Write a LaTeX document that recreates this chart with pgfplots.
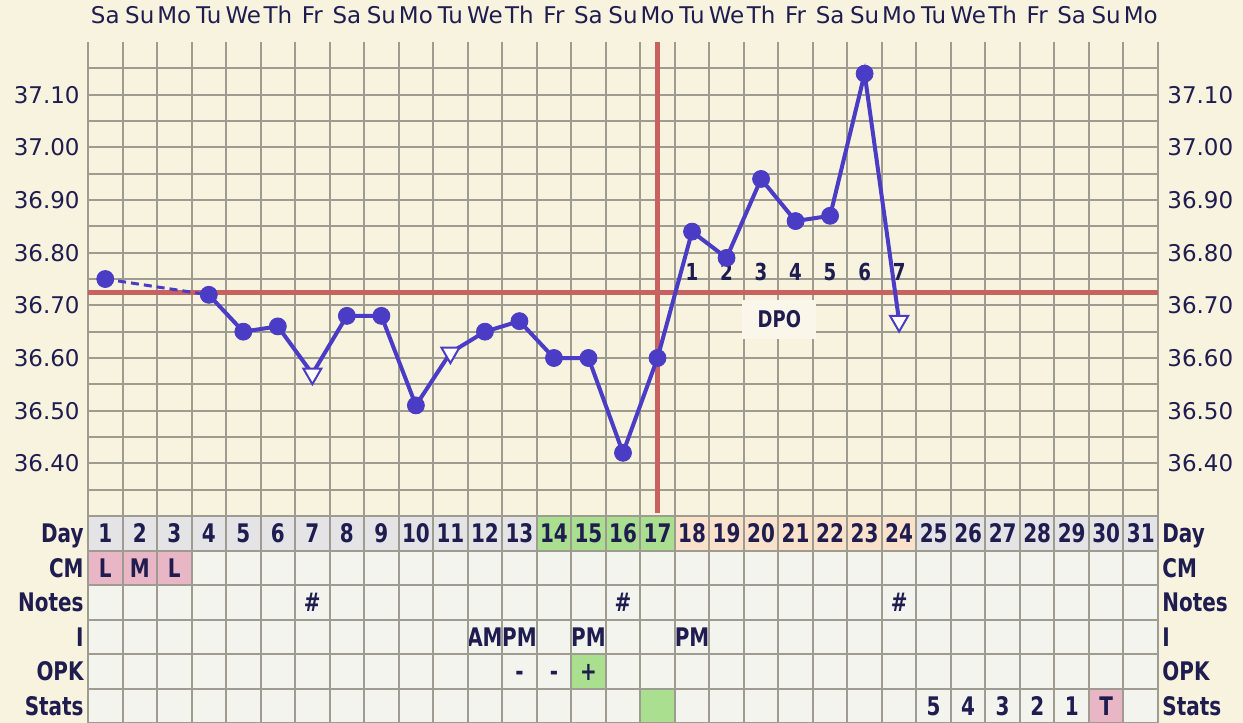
\documentclass[border=0pt]{standalone}
\usepackage{pgfplots}
\pgfplotsset{compat=1.18}
\usepackage{pgfplotstable}
\usepackage{fontspec}
\setmainfont{DejaVu Sans}
\newfontfamily\tblfont[FakeStretch=0.78]{DejaVu Sans}

\definecolor{bgc}{HTML}{F7F3DE}
\definecolor{gridc}{HTML}{9E9C90}
\definecolor{cellc}{HTML}{F4F4EF}
\definecolor{dayc}{HTML}{E4E4E6}
\definecolor{greenc}{HTML}{A9DF8E}
\definecolor{peachc}{HTML}{FAE1CA}
\definecolor{pinkc}{HTML}{E9B6C6}
\definecolor{redc}{HTML}{C8625E}
\definecolor{bluec}{HTML}{4A3CC4}
\definecolor{txtc}{HTML}{1F1C50}
\definecolor{dpobox}{HTML}{FAF7EA}

\pgfdeclareplotmark{dtri}{%
  \pgfpathmoveto{\pgfqpoint{0pt}{-\pgfplotmarksize}}%
  \pgfpathlineto{\pgfqpointpolar{30}{\pgfplotmarksize}}%
  \pgfpathlineto{\pgfqpointpolar{150}{\pgfplotmarksize}}%
  \pgfpathclose
  \pgfusepathqfillstroke}

\pgfplotstableread{
day temp cls
1 36.75 c
4 36.72 c
5 36.65 c
6 36.66 c
7 36.57 t
8 36.68 c
9 36.68 c
10 36.51 c
11 36.61 t
12 36.65 c
13 36.67 c
14 36.60 c
15 36.60 c
16 36.42 c
17 36.60 c
18 36.84 c
19 36.79 c
20 36.94 c
21 36.86 c
22 36.87 c
23 37.14 c
24 36.67 t
}\temps

\pgfplotsset{
  tickfont/.style={font=\fontsize{11.5}{13.8}\selectfont, text=txtc},
}
\tikzset{
  cell/.style={font=\tblfont\bfseries\fontsize{12.8}{14}\selectfont, text=txtc, anchor=base, yshift=-4.7pt, inner sep=0pt},
  dpon/.style={font=\tblfont\bfseries\fontsize{11.7}{14}\selectfont, text=txtc, anchor=base, yshift=-4.25pt, inner sep=0pt},
}

\begin{document}
\begin{tikzpicture}
\fill[bgc] (0,0) rectangle (621.5pt,361.5pt);

% ---------- temperature axis ----------
\begin{axis}[
  at={(44pt,103.5pt)}, anchor=south west,
  width=535pt, height=237pt, scale only axis,
  xmin=0.5, xmax=31.5, ymin=36.3, ymax=37.2,
  axis line style={draw=none},
  clip=false,
  major tick length=0pt, minor tick length=0pt,
  xtick={1,...,31},
  xticklabels={Sa,Su,Mo,Tu,We,Th,Fr,Sa,Su,Mo,Tu,We,Th,Fr,Sa,Su,Mo,Tu,We,Th,Fr,Sa,Su,Mo,Tu,We,Th,Fr,Sa,Su,Mo},
  xticklabel pos=right,
  xticklabel style={tickfont, anchor=base, yshift=9.5pt, inner sep=0pt},
  minor xtick={0.5,1.5,...,31.5},
  xminorgrids, xmajorgrids=false,
  ytick={36.4,36.5,36.6,36.7,36.8,36.9,37.0,37.1},
  yticklabels={36.40,36.50,36.60,36.70,36.80,36.90,37.00,37.10},
  yticklabel style={tickfont, anchor=east, inner sep=0pt, xshift=-4pt},
  minor ytick={36.35,36.45,36.55,36.65,36.75,36.85,36.95,37.05,37.15},
  ymajorgrids, yminorgrids,
  major grid style={gridc, line width=1pt},
  minor grid style={gridc, line width=1pt},
]
% cover line and ovulation line
\draw[redc, line width=2.6pt] (axis cs:0.5,36.725) -- (axis cs:31.5,36.725);
\draw[redc, line width=2.6pt] (axis cs:17,37.2) -- (axis cs:17,36.306);

% DPO numbers
\node[dpon] at (axis cs:18,36.764) {1};
\node[dpon] at (axis cs:19,36.764) {2};
\node[dpon] at (axis cs:20,36.764) {3};
\node[dpon] at (axis cs:21,36.764) {4};
\node[dpon] at (axis cs:22,36.764) {5};
\node[dpon] at (axis cs:23,36.764) {6};
\node[dpon] at (axis cs:24,36.764) {7};
\node[fill=dpobox, minimum width=37pt, minimum height=19.5pt, inner sep=0pt,
      font=\tblfont\bfseries\fontsize{11.5}{13}\selectfont, text=txtc]
      at (axis cs:20.53,36.674) {DPO};

% temperature line
\addplot[bluec, line width=1.5pt, dash pattern=on 4pt off 2.5pt, no marks,
  restrict x to domain=1:4] table[x=day, y=temp] {\temps};
\addplot[bluec, line width=2pt, no marks,
  restrict x to domain=4:24] table[x=day, y=temp] {\temps};
\addplot[scatter, only marks, scatter src=explicit symbolic,
  scatter/classes={
    c={mark=*, mark size=4.25pt, draw=bluec, fill=bluec},
    t={mark=dtri, mark size=5.2pt, draw=bluec, fill=white, line width=1pt}
  }] table[x=day, y=temp, meta=cls] {\temps};
\end{axis}

% right-hand temperature labels
\begin{axis}[
  at={(44pt,103.5pt)}, anchor=south west,
  width=535pt, height=237pt, scale only axis,
  xmin=0.5, xmax=31.5, ymin=36.3, ymax=37.2,
  axis line style={draw=none},
  major tick length=0pt,
  xtick=\empty,
  ytick={36.4,36.5,36.6,36.7,36.8,36.9,37.0,37.1},
  yticklabels={36.40,36.50,36.60,36.70,36.80,36.90,37.00,37.10},
  yticklabel pos=right,
  yticklabel style={tickfont, anchor=west, inner sep=0pt, xshift=4.5pt},
]
\end{axis}

% ---------- table axis ----------
\begin{axis}[
  at={(44pt,0pt)}, anchor=south west,
  width=535pt, height=103.5pt, scale only axis,
  xmin=0.5, xmax=31.5, ymin=0, ymax=6,
  axis on top, clip=false,
  axis line style={draw=none},
  major tick length=0pt, minor tick length=0pt,
  xtick={1,...,31}, xticklabels={}, minor xtick={0.5,1.5,...,31.5}, xminorgrids,
  ytick={0,1,2,3,4,5,6}, yticklabels={}, ymajorgrids,
  major grid style={gridc, line width=1pt},
  minor grid style={gridc, line width=1pt},
]
\fill[cellc] (axis cs:0.5,0) rectangle (axis cs:31.5,5);
\fill[dayc] (axis cs:0.5,5) rectangle (axis cs:31.5,6);
\fill[greenc] (axis cs:13.5,5) rectangle (axis cs:17.5,6);
\fill[peachc] (axis cs:17.5,5) rectangle (axis cs:24.5,6);
\fill[pinkc] (axis cs:0.5,4) rectangle (axis cs:3.5,5);
\fill[greenc] (axis cs:14.5,1) rectangle (axis cs:15.5,2);
\fill[greenc] (axis cs:16.5,0) rectangle (axis cs:17.5,1);
\fill[pinkc] (axis cs:29.5,0) rectangle (axis cs:30.5,1);

\pgfplotsinvokeforeach{1,...,31}{\node[cell] at (axis cs:#1,5.5) {#1};}

% row labels
\node[cell, anchor=base east, xshift=-2pt] at (axis cs:0.5,5.5) {Day};
\node[cell, anchor=base east, xshift=-2pt] at (axis cs:0.5,4.5) {CM};
\node[cell, anchor=base east, xshift=-2pt] at (axis cs:0.5,3.5) {Notes};
\node[cell, anchor=base east, xshift=-2pt] at (axis cs:0.5,2.5) {I};
\node[cell, anchor=base east, xshift=-2pt] at (axis cs:0.5,1.5) {OPK};
\node[cell, anchor=base east, xshift=-2pt] at (axis cs:0.5,0.5) {Stats};
\node[cell, anchor=base west, xshift=2pt] at (axis cs:31.5,5.5) {Day};
\node[cell, anchor=base west, xshift=2pt] at (axis cs:31.5,4.5) {CM};
\node[cell, anchor=base west, xshift=2pt] at (axis cs:31.5,3.5) {Notes};
\node[cell, anchor=base west, xshift=2pt] at (axis cs:31.5,2.5) {I};
\node[cell, anchor=base west, xshift=2pt] at (axis cs:31.5,1.5) {OPK};
\node[cell, anchor=base west, xshift=2pt] at (axis cs:31.5,0.5) {Stats};

% CM
\node[cell] at (axis cs:1,4.5) {L};
\node[cell] at (axis cs:2,4.5) {M};
\node[cell] at (axis cs:3,4.5) {L};
% Notes
\node[cell] at (axis cs:7,3.5) {\#};
\node[cell] at (axis cs:16,3.5) {\#};
\node[cell] at (axis cs:24,3.5) {\#};
% I
\node[cell] at (axis cs:12,2.5) {AM};
\node[cell] at (axis cs:13,2.5) {PM};
\node[cell] at (axis cs:15,2.5) {PM};
\node[cell] at (axis cs:18,2.5) {PM};
% OPK
\node[cell] at (axis cs:13,1.5) {-};
\node[cell] at (axis cs:14,1.5) {-};
\node[cell] at (axis cs:15,1.5) {+};
% Stats
\node[cell] at (axis cs:25,0.5) {5};
\node[cell] at (axis cs:26,0.5) {4};
\node[cell] at (axis cs:27,0.5) {3};
\node[cell] at (axis cs:28,0.5) {2};
\node[cell] at (axis cs:29,0.5) {1};
\node[cell] at (axis cs:30,0.5) {T};
\end{axis}

\pgfresetboundingbox
\useasboundingbox (0,0) rectangle (621.5pt,361.5pt);
\end{tikzpicture}
\end{document}
